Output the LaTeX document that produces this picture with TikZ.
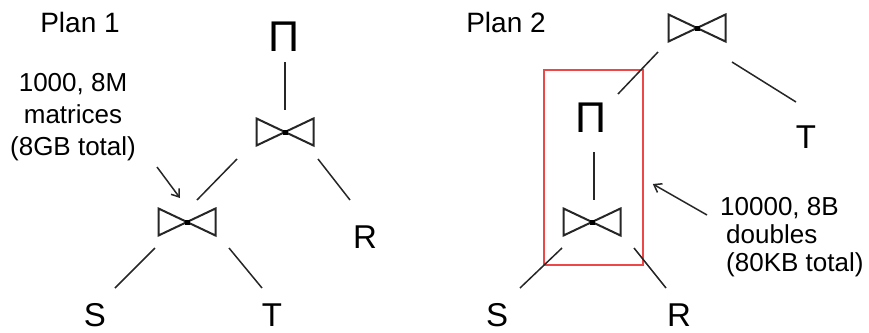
\documentclass[tikz,border=0pt]{standalone}
\usepackage{fontspec}
\setmainfont{Liberation Sans}
\usetikzlibrary{calc,arrows.meta}
\definecolor{boxred}{RGB}{236,72,72}
\tikzset{
  lbl/.style={inner sep=0pt, font=\fontsize{33}{36}\selectfont},
  title/.style={inner sep=0pt, font=\fontsize{28}{32}\selectfont},
  pinode/.style={inner sep=0pt, font=\fontsize{43}{46}\selectfont},
  note/.style={inner sep=0pt, font=\fontsize{26}{32}\selectfont},
  edge/.style={line width=1.5pt, black!85},
  pointer/.style={line width=1.5pt, black!85, -{Straight Barb[length=7pt,width=10pt,line width=1.5pt]}},
  bowtie/.style={minimum width=60pt, minimum height=30pt, inner sep=0pt, outer sep=0pt,
    path picture={
      \draw[line width=2pt, black!85, line join=miter]
        ([shift={(-28.5pt,-13.5pt)}]path picture bounding box.center) --
        ([shift={(28.5pt,13.5pt)}]path picture bounding box.center) --
        ([shift={(28.5pt,-13.5pt)}]path picture bounding box.center) --
        ([shift={(-28.5pt,13.5pt)}]path picture bounding box.center) -- cycle;
      \fill[black] ([shift={(-2.5pt,-2.5pt)}]path picture bounding box.center)
        rectangle ([shift={(2.5pt,2.5pt)}]path picture bounding box.center);
    }},
  redbox/.style={draw=boxred, line width=1.6pt, minimum width=99pt, minimum height=195pt, inner sep=0pt}
}
\begin{document}
\begin{tikzpicture}[x=1pt,y=-1pt]
\useasboundingbox (0,0) rectangle (869,332);
% ---------- Plan 1 ----------
\node[title] (t1) at (80,22) {Plan 1};
\node[pinode] (pi1) at (284,37) {Π};
\node[bowtie] (j1) at (285,132) {};
\node[bowtie] (j2) at (187,222) {};
\node[lbl] (r1) at (365,237) {R};
\node[lbl] (s1) at (95,315) {S};
\node[lbl] (tt1) at (272,315) {T};
\node[note, align=center] (n1) at (73,117) {1000, 8M\\matrices\\(8GB total)};
\draw[edge] ([shift={(1,25)}]pi1.center) -- ([shift={(0,-22)}]j1.center);
\draw[edge] ([shift={(-48,27)}]j1.center) -- ([shift={(10,-22)}]j2.center);
\draw[edge] ([shift={(33,27)}]j1.center) -- ([shift={(-15,-37)}]r1.center);
\draw[edge] ([shift={(-32,26)}]j2.center) -- ([shift={(20,-27)}]s1.center);
\draw[edge] ([shift={(42,26)}]j2.center) -- ([shift={(-10,-27)}]tt1.center);
\draw[pointer] ([shift={(84,50)}]n1.center) -- ([shift={(-7,-24)}]j2.center);
% ---------- Plan 2 ----------
\node[title] (t2) at (506,22) {Plan 2};
\node[bowtie] (j3) at (697,28) {};
\node[pinode] (pi2) at (591,118) {Π};
\node[bowtie] (j4) at (592,222) {};
\node[lbl] (tt2) at (806,137) {T};
\node[lbl] (s2) at (497,315) {S};
\node[lbl] (r2) at (679,315) {R};
\node[redbox] (box) at (593.5,167.5) {};
\node[note, align=left, font=\fontsize{26}{28}\selectfont, anchor=west] (n2) at (720,237) {10000, 8B\\\hspace*{6pt}doubles\\\hspace*{6pt}(80KB total)};
\draw[edge] ([shift={(-39,24)}]j3.center) -- ([shift={(27,-24)}]pi2.center);
\draw[edge] ([shift={(35,34)}]j3.center) -- ([shift={(-10,-35)}]tt2.center);
\draw[edge] ([shift={(3,34)}]pi2.center) -- ([shift={(2,-22)}]j4.center);
\draw[edge] ([shift={(-30,26)}]j4.center) -- ([shift={(23,-27)}]s2.center);
\draw[edge] ([shift={(42,26)}]j4.center) -- ([shift={(-13,-27)}]r2.center);
\draw[pointer] ([shift={(-13,-22)}]n2.west) -- ([shift={(9,16.5)}]box.east);
\end{tikzpicture}
\end{document}
